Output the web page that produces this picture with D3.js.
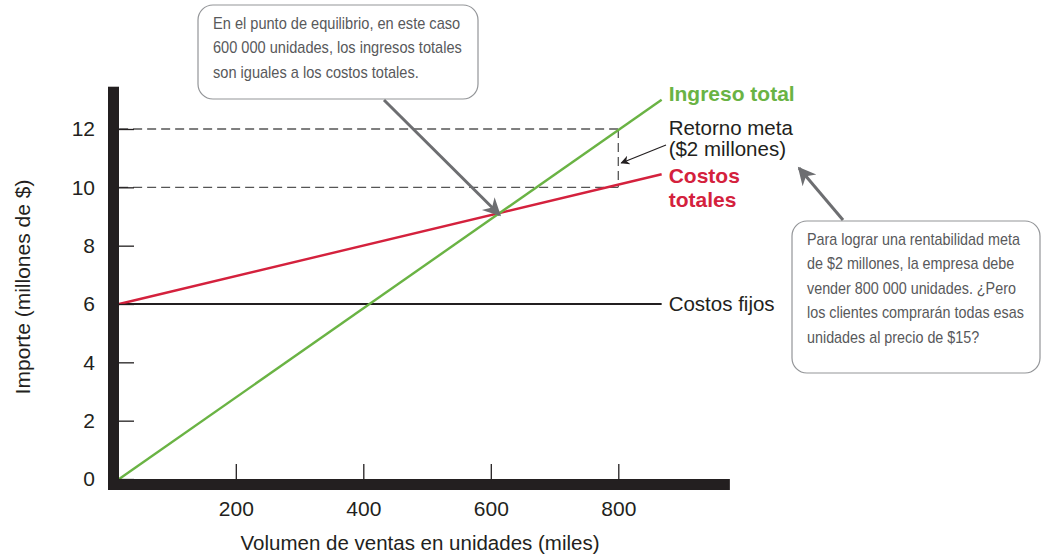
<!DOCTYPE html>
<html>
<head>
<meta charset="utf-8">
<script src="https://cdn.jsdelivr.net/npm/d3@7"></script>
<style>
  body { margin: 0; background: #fff; }
  svg { display: block; font-family: "Liberation Sans", Arial, sans-serif; }
  .note { font-family: "Liberation Sans", Arial, sans-serif; font-size: 16px; fill: #58595b; }
</style>
</head>
<body>
<svg width="1043" height="554"></svg>
<script>
// tick values
var xTicks = [200, 400, 600, 800];
var yTicks = [0, 2, 4, 6, 8, 10, 12];

// volume (thousand units) vs amount (millions of $)
var revenue = [[17, 0], [868, 13.0]];
var totalCost = [[17, 6], [868, 10.45]];
var fixedCost = [[17, 6], [868, 6]];
var targetVolume = 800;
var targetLow = 10, targetHigh = 12;

var note1 = ["En el punto de equilibrio, en este caso",
             "600 000 unidades, los ingresos totales",
             "son iguales a los costos totales."];
var note2 = ["Para lograr una rentabilidad meta",
             "de $2 millones, la empresa debe",
             "vender 800 000 unidades. ¿Pero",
             "los clientes comprarán todas esas",
             "unidades al precio de $15?"];

var green = "#6ab344", red = "#d4213d", ink = "#231f20";

var svg = d3.select("svg");

var x = d3.scaleLinear().domain([0, 800]).range([108.3, 618.3]);
var y = d3.scaleLinear().domain([0, 12]).range([479, 129]);

var defs = svg.append("defs");
function marker(id, color, w, h) {
  defs.append("marker")
      .attr("id", id)
      .attr("viewBox", "0 0 10 10")
      .attr("refX", 9).attr("refY", 5)
      .attr("markerWidth", w).attr("markerHeight", h)
      .attr("markerUnits", "userSpaceOnUse")
      .attr("orient", "auto")
    .append("path")
      .attr("d", "M0,0 L10,5 L0,10 L3,5 Z")
      .attr("fill", color);
}
marker("bigArrow", "#6d6e71", 22, 18);
marker("smallArrow", ink, 13, 9);

// dashed target lines
var dash = svg.append("g")
    .attr("stroke", "#555").attr("stroke-width", 1.3)
    .attr("stroke-dasharray", "9,5").attr("fill", "none");
[targetHigh, targetLow].forEach(function(v) {
  dash.append("line")
      .attr("x1", x(17)).attr("x2", x(targetVolume))
      .attr("y1", y(v)).attr("y2", y(v));
});
dash.append("line")
    .attr("x1", x(targetVolume)).attr("x2", x(targetVolume))
    .attr("y1", y(targetHigh)).attr("y2", y(targetLow));

var line = d3.line()
    .x(function(d) { return x(d[0]); })
    .y(function(d) { return y(d[1]); });

svg.append("path").datum(fixedCost)
    .attr("d", line).attr("fill", "none")
    .attr("stroke", ink).attr("stroke-width", 2.2);
svg.append("path").datum(totalCost)
    .attr("d", line).attr("fill", "none")
    .attr("stroke", red).attr("stroke-width", 2.4);
svg.append("path").datum(revenue)
    .attr("d", line).attr("fill", "none")
    .attr("stroke", green).attr("stroke-width", 2.4);

// axes
var yAxis = svg.append("g")
    .attr("transform", "translate(119,0)")
    .call(d3.axisLeft(y).tickValues(yTicks).tickSizeInner(-15).tickSizeOuter(0).tickPadding(24));
var xAxis = svg.append("g")
    .attr("transform", "translate(0,479)")
    .call(d3.axisBottom(x).tickValues(xTicks).tickSizeInner(-15).tickSizeOuter(0).tickPadding(22));
[xAxis, yAxis].forEach(function(g) {
  g.select(".domain").remove();
  g.selectAll(".tick line").attr("stroke", ink).attr("stroke-width", 1.3);
  g.selectAll(".tick text")
      .attr("fill", ink)
      .style("font-family", "Liberation Sans, Arial, sans-serif")
      .style("font-size", "21px");
});

// thick axis bars
svg.append("rect")
    .attr("x", 108).attr("y", y(13.45))
    .attr("width", 11).attr("height", 490 - y(13.45))
    .attr("fill", ink);
svg.append("rect")
    .attr("x", 108).attr("y", 479)
    .attr("width", x(975) - 108).attr("height", 11)
    .attr("fill", ink);

// axis titles
svg.append("text")
    .attr("transform", "translate(30,287) rotate(-90)")
    .attr("text-anchor", "middle")
    .attr("fill", ink)
    .style("font-size", "21px")
    .text("Importe (millones de $)");
svg.append("text")
    .attr("x", 420).attr("y", 550)
    .attr("text-anchor", "middle")
    .attr("fill", ink)
    .style("font-size", "20.5px")
    .text("Volumen de ventas en unidades (miles)");

// line labels
var lx = x(868) + 7;
svg.append("text").attr("x", lx).attr("y", y(13.0) + 1)
    .attr("fill", green).style("font-size", "21px").style("font-weight", "bold")
    .text("Ingreso total");
svg.append("text").attr("x", lx).attr("y", 135)
    .attr("fill", ink).style("font-size", "20.5px")
    .text("Retorno meta");
svg.append("text").attr("x", lx).attr("y", 156)
    .attr("fill", ink).style("font-size", "20.5px")
    .text("($2 millones)");
svg.append("text").attr("x", lx).attr("y", 183)
    .attr("fill", red).style("font-size", "21px").style("font-weight", "bold")
    .text("Costos");
svg.append("text").attr("x", lx).attr("y", 207)
    .attr("fill", red).style("font-size", "21px").style("font-weight", "bold")
    .text("totales");
svg.append("text").attr("x", lx).attr("y", y(6) + 7)
    .attr("fill", ink).style("font-size", "20.5px")
    .text("Costos fijos");

// small arrow to the target gap
svg.append("line")
    .attr("x1", 666).attr("y1", 145)
    .attr("x2", x(targetVolume) + 3).attr("y2", 163)
    .attr("stroke", ink).attr("stroke-width", 1.2)
    .attr("marker-end", "url(#smallArrow)");

// callout boxes, text squeezed to look like a condensed face
function callout(bx, by, bw, bh, lines) {
  svg.append("rect")
      .attr("x", bx).attr("y", by).attr("width", bw).attr("height", bh)
      .attr("rx", 15).attr("ry", 15)
      .attr("fill", "#fff").attr("stroke", "#939598").attr("stroke-width", 1.2);
  var t = svg.append("text").attr("class", "note");
  lines.forEach(function(s, i) {
    t.append("tspan").attr("x", 0).attr("y", by + 24 + i * 24.5).text(s);
  });
  var widest = d3.max(t.selectAll("tspan").nodes(), function(n) { return n.getComputedTextLength(); });
  var k = (bw - 31) / widest;
  t.attr("transform", "translate(" + (bx + 15) + ",0) scale(" + k + ",1)");
}
callout(198, 5, 280, 94, note1);
callout(792, 221, 248, 152, note2);

// callout arrows
svg.append("line")
    .attr("x1", 384).attr("y1", 100)
    .attr("x2", x(614)).attr("y2", y(9.05))
    .attr("stroke", "#6d6e71").attr("stroke-width", 3)
    .attr("marker-end", "url(#bigArrow)");
svg.append("line")
    .attr("x1", 843).attr("y1", 220)
    .attr("x2", 799).attr("y2", 168)
    .attr("stroke", "#6d6e71").attr("stroke-width", 3)
    .attr("marker-end", "url(#bigArrow)");
</script>
</body>
</html>
